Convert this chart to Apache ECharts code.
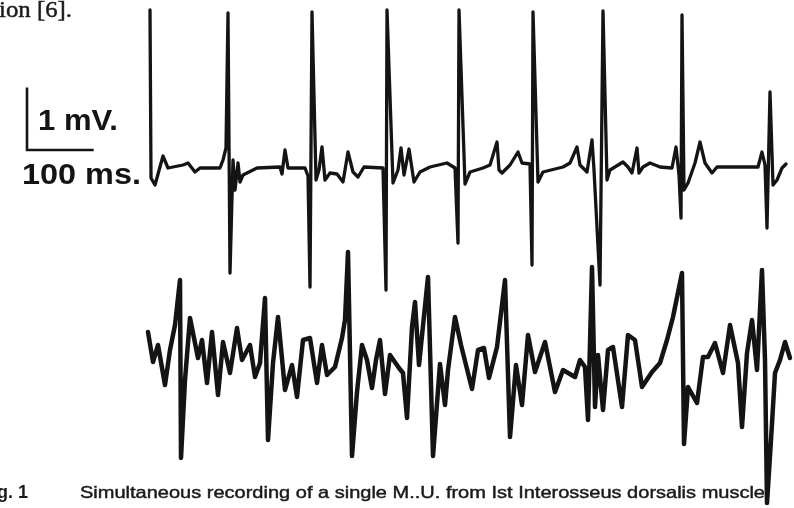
<!DOCTYPE html>
<html>
<head>
<meta charset="utf-8">
<script src="https://cdn.jsdelivr.net/npm/echarts/dist/echarts.min.js"></script>
<style>
  html, body { margin: 0; padding: 0; background: #fff; }
  #chart { width: 794px; height: 508px; }
</style>
</head>
<body>
<div id="chart"></div>
<script>
// Upper trace: single motor unit (time in ms, amplitude in mV about its own baseline)
const unitTime = [0, 1.5, 7.5, 19.5, 27, 49.5, 57, 67.5, 75, 105, 109.5, 114, 117, 120, 124.5, 127.5, 132, 135, 139.5, 145.5, 160.5,
  195, 198, 202.5, 207, 232.5, 237, 240, 243, 249, 253.5, 258, 262.5, 270, 280.5, 289.5, 297, 304.5, 312, 321, 349.5,
  354, 355.5, 364.5, 372, 376.5, 381, 388.5, 396, 405, 420, 445.5, 457.5, 462, 463.5, 472.5, 480, 499.5, 510, 520.5, 523.5,
  528, 540, 552, 558, 570, 573, 574.5, 582, 589.5, 619.5, 630, 640.5, 645, 655.5, 663, 666, 675, 679.5, 685.5, 690,
  709.5, 717, 723, 730.5, 733.5, 739.5, 750, 765, 783, 789, 793.5, 796.5, 798, 801, 807, 817.5, 825, 832.5, 843, 850.5,
  912, 918, 922.5, 925.5, 930, 934.5, 940.5, 948, 954];
const unitVolt = [2.512, -0.176, -0.288, 0.176, -0.016, 0.032, 0.064, -0.08, -0.016, -0.016, 0.112, 0.304, 2.464, -1.696, 0.112, -0.368, 0.064, -0.24, -0.128, -0.096, -0.016,
  0, -0.112, 0.272, -0.016, -0.016, -0.144, -1.92, 2.48, -0.208, -0.048, 0.32, -0.208, -0.096, -0.112, -0.24, 0.24, -0.08, -0.16, 0, -0.016,
  -1.968, 2.512, -0.256, -0.048, 0.304, -0.128, 0.288, -0.24, -0.08, 0, 0.064, -0.016, -1.216, 2.512, -0.272, -0.08, -0.016, 0.032, 0.4, -0.048,
  -0.096, 0.032, 0.24, 0.064, 0.048, -1.568, 2.48, -0.24, -0.08, 0, 0.064, 0.32, 0.032, -0.08, 0.432, -0.048, -1.888, 2.496, -0.208, -0.048,
  0.08, 0, -0.096, 0.304, -0.096, 0, 0.064, 0, -0.016, 0.32, -0.128, -0.816, 2.432, -0.368, -0.256, 0.064, 0.4, 0.064, -0.096, 0,
  0, 0.24, 0.032, -0.976, 1.2, -0.288, -0.208, -0.016, 0.048];

// Lower trace: surface recording (time in ms, amplitude in mV about its own baseline)
const surfTime = [-3, 4.5, 12, 22.5, 30, 37.5, 45, 46.5, 52.5, 60, 72, 78, 85.5, 93, 102, 109.5, 120, 130.5, 138, 150,
  157.5, 165, 172.5, 177, 184.5, 192, 202.5, 213, 220.5, 229.5, 240, 250.5, 258, 265.5, 277.5, 288, 292.5, 297, 303, 310.5,
  318, 325.5, 333, 339, 345, 352.5, 360, 373.5, 379.5, 385.5, 393, 397.5, 403.5, 417, 424.5, 435, 442.5, 447, 457.5, 466.5,
  474, 483, 492, 501, 508.5, 520.5, 532.5, 540, 549, 558, 567, 577.5, 592.5, 600, 607.5, 619.5, 637.5, 645, 652.5, 657,
  663, 667.5, 672, 679.5, 687, 694.5, 708, 717, 727.5, 738, 753, 765, 775.5, 784.5, 798, 801, 807, 820.5, 829.5, 837,
  847.5, 859.5, 870, 882, 888, 895.5, 903, 910.5, 918, 922.5, 925.5, 931.5, 937.5, 945, 952.5, 960];
const surfVolt = [0.288, -0.192, 0.08, -0.56, 0, 0.4, 1.12, -1.728, -0.48, 0.512, -0.128, 0.16, -0.528, 0.288, -0.72, 0.128, -0.368, 0.352, -0.16, 0.08,
  -0.432, -0.208, 0.832, -1.44, -0.208, 0.528, -0.64, -0.24, -0.752, 0.16, 0.192, -0.528, 0.08, -0.4, -0.272, 0.192, 0.48, 1.568, -1.696, -0.672,
  0.08, -0.16, -0.608, -0.16, 0.16, -0.704, -0.08, -0.288, -0.368, -1.088, 0.368, 0.768, -0.24, 1.168, -1.696, -0.224, -0.88, -0.32, 0.528, 0.08,
  -0.24, -0.624, 0, 0.032, -0.448, 0.048, 1.12, -1.392, -0.24, -0.88, 0.24, -0.352, 0.128, -0.272, -0.672, -0.32, -0.432, -0.16, -0.272, -1.12,
  1.328, -0.912, -0.08, -0.96, 0, 0.048, -0.912, 0.24, 0.16, -0.592, -0.352, -0.208, 0.16, 0.528, 1.232, -1.504, -0.592, -0.848, -0.112, -0.112,
  0.112, -0.368, 0.4, -0.208, -1.232, -0.048, 0.48, -0.32, 1.28, -0.16, -2.448, -1.44, -0.368, -0.16, 0.128, -0.128];

// Calibration bar
const calTime = 100;   // ms
const calVolt = 1;     // mV
const calLabels = ['1 mV.', '100 ms.'];

const captionNumber = 'Fig. 1';
const captionText = 'Simultaneous recording of a single M..U. from Ist Interosseus dorsalis muscle';
const headerText = 'ion [6].';

// Layout: each trace sits on its own baseline on a shared mV scale
const upperBase = 0;
const lowerBase = -2.928;
const calOrigin = [-184.5, 0.272];

const zip = (ts, vs, base) => ts.map((t, i) => [t, vs[i] + base]);

const calData = [
  [calOrigin[0], calOrigin[1] + calVolt],
  [calOrigin[0], calOrigin[1]],
  [calOrigin[0] + calTime, calOrigin[1]]
];

const chart = echarts.init(document.getElementById('chart'), null, { renderer: 'canvas' });

const ink = '#141414';
const traceStyle = (w) => ({ color: ink, width: w, join: 'round', cap: 'round' });

chart.setOption({
  animation: false,
  backgroundColor: '#ffffff',
  grid: { left: 0, right: 0, top: 0, bottom: 0 },
  xAxis: { type: 'value', min: -225, max: 966, show: false },
  yAxis: { type: 'value', min: -5.456, max: 2.672, show: false },
  series: [
    { type: 'line', data: zip(unitTime, unitVolt, upperBase), showSymbol: false, lineStyle: traceStyle(3.3), silent: true },
    { type: 'line', data: zip(surfTime, surfVolt, lowerBase), showSymbol: false, lineStyle: traceStyle(4.5), silent: true },
    { type: 'line', data: calData, showSymbol: false, lineStyle: { color: ink, width: 2.6, join: 'miter', cap: 'butt' }, silent: true }
  ]
});

// Text next to the calibration bar and along the page edges, fitted to a target width
const corner = chart.convertToPixel({ gridIndex: 0 }, calOrigin);
const ctx = document.createElement('canvas').getContext('2d');
const fitScale = (text, font, width) => { ctx.font = font; return width / ctx.measureText(text).width; };

const sans = '"Liberation Sans", Arial, sans-serif';
const capFont = '17px ' + sans;
const mvFont = 'bold 30px ' + sans;
const msFont = 'bold 30px ' + sans;
const headFont = '24px "Liberation Serif", serif';

chart.setOption({
  graphic: [
    { type: 'text', x: -1, y: 11, scaleX: fitScale(headerText, headFont, 73),
      style: { text: headerText, font: headFont, fill: '#1a1a1a', stroke: '#1a1a1a', lineWidth: 0.5, verticalAlign: 'middle' } },
    { type: 'text', x: corner[0] + 11, y: corner[1] - 28, scaleX: fitScale(calLabels[0], mvFont, 80),
      style: { text: calLabels[0], font: mvFont, fill: ink, verticalAlign: 'middle' } },
    { type: 'text', x: corner[0] - 5, y: corner[1] + 26, scaleX: fitScale(calLabels[1], msFont, 119),
      style: { text: calLabels[1], font: msFont, fill: ink, verticalAlign: 'middle' } },
    { type: 'text', x: -19, y: 493,
      style: { text: captionNumber, font: 'bold 18px ' + sans, fill: '#1a1a1a', verticalAlign: 'middle' } },
    { type: 'text', x: 80, y: 493, scaleX: fitScale(captionText, capFont, 685),
      style: { text: captionText, font: capFont, fill: '#1a1a1a', stroke: '#1a1a1a', lineWidth: 0.45, verticalAlign: 'middle' } }
  ]
});
</script>
</body>
</html>
